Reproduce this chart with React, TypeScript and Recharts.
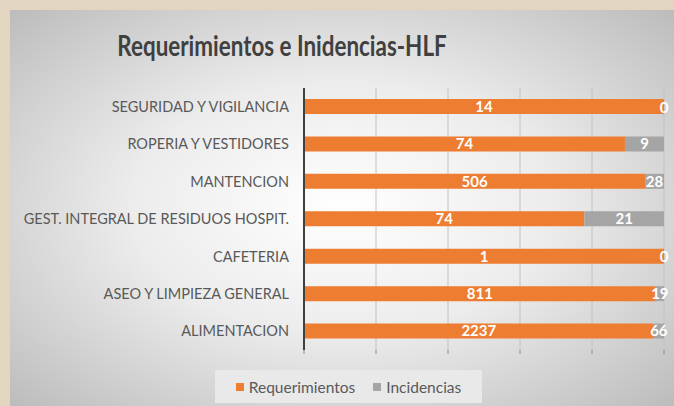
import React from 'react';
import { BarChart, Bar, XAxis, YAxis, CartesianGrid, LabelList } from 'recharts';

const categories = [
  'SEGURIDAD Y VIGILANCIA',
  'ROPERIA Y VESTIDORES',
  'MANTENCION',
  'GEST. INTEGRAL DE RESIDUOS HOSPIT.',
  'CAFETERIA',
  'ASEO Y LIMPIEZA GENERAL',
  'ALIMENTACION',
];
const requerimientos = [14, 74, 506, 74, 1, 811, 2237];
const incidencias = [0, 9, 28, 21, 0, 19, 66];
const xTicks = [0, 0.2, 0.4, 0.6, 0.8, 1];

const ORANGE = '#ED7D31';
const GRAY = '#A5A5A5';
const FONT = 'Lato, "Open Sans", sans-serif';

const data = categories.map((name, i) => ({
  name,
  req: requerimientos[i],
  inc: incidencias[i],
}));

const labelStyle = { fill: '#fff', fontSize: 15, fontWeight: 700, fontFamily: FONT };

// zero-valued incidences have no bar, so their label is drawn at the end of the orange bar
const zeroLabel = (props: any) => {
  const { x, y, width, height, value } = props;
  if (value !== 0) return null;
  return (
    <text
      x={Number(x) + Number(width)}
      y={Number(y) + Number(height) / 2}
      textAnchor="middle"
      dominantBaseline="central"
      style={labelStyle}
    >
      {value}
    </text>
  );
};

export default function App() {
  return (
    <div
      style={{
        position: 'fixed',
        left: 0,
        top: 0,
        width: 674,
        height: 406,
        background: '#e2d6c0',
        fontFamily: FONT,
        overflow: 'hidden',
      }}
    >
      <div
        style={{
          position: 'absolute',
          left: 10,
          top: 10,
          width: 664,
          height: 396,
          background:
            'radial-gradient(ellipse at 50% 50%, #ffffff 0%, #ececec 45%, #c9c9c9 85%, #bcbcbc 100%)',
        }}
      />
      <div
        style={{
          position: 'absolute',
          left: 32,
          top: 28,
          width: 500,
          textAlign: 'center',
          fontSize: 28,
          fontWeight: 700,
          color: '#404040',
          whiteSpace: 'nowrap',
          transform: 'scaleX(0.8)',
          transformOrigin: '50% 50%',
        }}
      >
        Requerimientos e Inidencias-HLF
      </div>
      <div style={{ position: 'absolute', left: 0, top: 0 }}>
        <BarChart
          width={674}
          height={406}
          data={data}
          layout="vertical"
          stackOffset="expand"
          barSize={15}
          margin={{ top: 88, right: 10, bottom: 48, left: 0 }}
        >
          <CartesianGrid horizontal={false} stroke="#c2c2c2" />
          <XAxis
            type="number"
            domain={[0, 1]}
            ticks={xTicks}
            tickFormatter={() => ''}
            axisLine={false}
            tickLine={{ stroke: '#8a8a8a' }}
            tickSize={4}
            height={8}
          />
          <YAxis
            type="category"
            dataKey="name"
            width={304}
            axisLine={{ stroke: '#404040', strokeWidth: 2 }}
            tickLine={false}
            tickMargin={9}
            tick={{ fill: '#595959', fontSize: 14.5, fontFamily: FONT }}
            interval={0}
          />
          <Bar dataKey="req" stackId="a" fill={ORANGE} isAnimationActive={false}>
            <LabelList dataKey="req" position="center" style={labelStyle} />
            <LabelList dataKey="inc" content={zeroLabel} />
          </Bar>
          <Bar dataKey="inc" stackId="a" fill={GRAY} isAnimationActive={false}>
            <LabelList dataKey="inc" position="center" style={labelStyle} />
          </Bar>
        </BarChart>
      </div>
      <div
        style={{
          position: 'absolute',
          left: 215,
          top: 370,
          width: 267,
          height: 33,
          background: '#e9e9e9',
          display: 'flex',
          alignItems: 'center',
          justifyContent: 'center',
          gap: 18,
          fontSize: 15.5,
          color: '#595959',
        }}
      >
        <span style={{ display: 'flex', alignItems: 'center' }}>
          <span style={{ width: 8, height: 8, background: ORANGE, marginRight: 5 }} />
          Requerimientos
        </span>
        <span style={{ display: 'flex', alignItems: 'center' }}>
          <span style={{ width: 8, height: 8, background: GRAY, marginRight: 5 }} />
          Incidencias
        </span>
      </div>
    </div>
  );
}
